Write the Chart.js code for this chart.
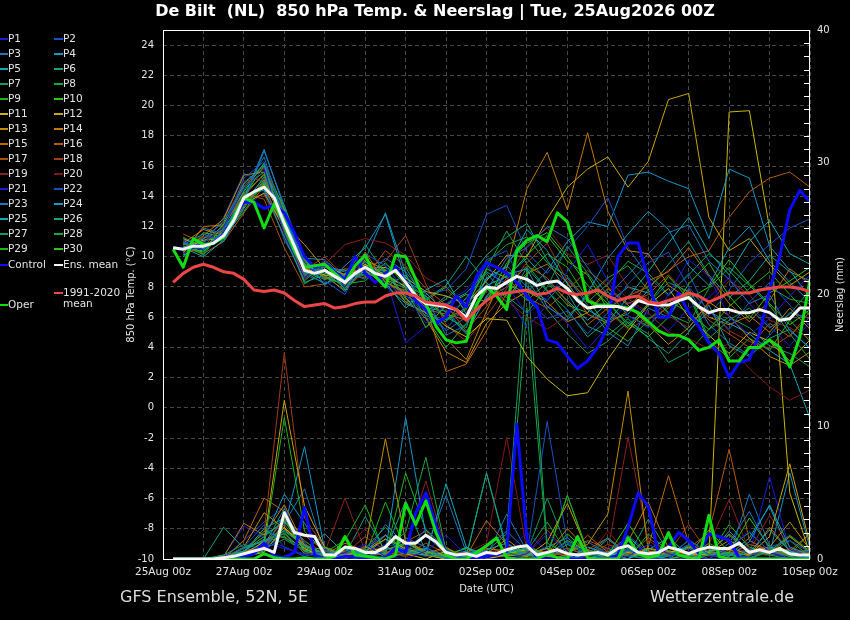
<!DOCTYPE html>
<html>
<head>
<meta charset="utf-8">
<title>De Bilt 850 hPa Temp. &amp; Neerslag</title>
<script src="https://cdn.jsdelivr.net/npm/chart.js@4.4.1/dist/chart.umd.min.js"></script>
<style>
  html, body { margin: 0; padding: 0; background: #000; }
  canvas { display: block; }
</style>
</head>
<body>
<canvas id="ensChart" width="850" height="620"></canvas>
<script>
// GFS ensemble plume, De Bilt: 850 hPa temperature (left axis) and 6h precipitation (right axis)

// Time steps (hours after 25Aug 00z)
const mainStartHour = 6, mainStepHours = 6;      // oper, control, ens. mean, climate
const memberStartHour = 12, memberStepHours = 12; // P1..P30

const xTickLabels = ['25Aug 00z', '27Aug 00z', '29Aug 00z', '31Aug 00z', '02Sep 00z',
    '04Sep 00z', '06Sep 00z', '08Sep 00z', '10Sep 00z'];
const tempTicks = [-10, -8, -6, -4, -2, 0, 2, 4, 6, 8, 10, 12, 14, 16, 18, 20, 22, 24];
const rainTicks = [0, 10, 20, 30, 40];

// Highlighted runs, 850 hPa temperature (°C)
const operTemp = [10.5, 9.3, 11.2, 10.8, 10.9, 11.3, 12.6, 13.9, 13.6, 11.9, 13.5, 12.2, 10.4, 9.3, 9.4, 9.5,
    8.9, 8.3, 9.4, 10.1, 8.7, 8.0, 10.1, 10.0, 8.5, 6.9, 5.4, 4.5, 4.3, 4.4,
    6.8, 8.0, 7.4, 6.5, 10.4, 11.1, 11.4, 11.0, 12.9, 12.3, 10.0, 7.1, 6.8, 6.8, 6.7, 6.6, 6.3,
    5.7, 5.1, 4.8, 4.8, 4.5, 3.8, 4.0, 4.5, 3.1, 3.1, 4.0, 4.0, 4.5, 4.0, 2.7, 4.7, 8.5];
const controlTemp = [10.6, 10.5, 10.7, 10.8, 10.9, 11.5, 12.6, 13.6, 13.6, 13.2, 13.4, 12.9, 11.6, 10.0, 9.3, 9.5,
    9.0, 8.5, 10.0, 8.9, 8.3, 8.9, 9.3, 8.3, 7.1, 6.5, 5.6, 6.0, 7.4, 6.7,
    8.7, 9.6, 9.3, 8.9, 8.3, 7.4, 6.7, 4.5, 4.3, 3.4, 2.6, 3.1, 4.0, 5.4, 10.0, 10.9, 10.9,
    8.5, 6.0, 6.0, 7.6, 6.3, 5.4, 4.3, 3.6, 2.0, 3.0, 3.2, 4.9, 7.8, 10.0, 13.1, 14.4, 13.6];
const ensMeanTemp = [10.6, 10.5, 10.7, 10.7, 10.9, 11.4, 12.4, 13.9, 14.3, 14.6, 13.9, 12.2, 10.7, 9.1, 8.9, 9.1,
    8.7, 8.3, 8.9, 9.3, 8.9, 8.7, 9.1, 8.3, 7.4, 6.9, 6.8, 6.7, 6.5, 6.0,
    7.4, 8.0, 7.9, 8.3, 8.7, 8.5, 8.1, 8.3, 8.4, 7.9, 7.1, 6.6, 6.7, 6.7, 6.7, 6.5, 7.1,
    6.9, 6.8, 6.8, 7.1, 7.3, 6.7, 6.3, 6.5, 6.5, 6.3, 6.3, 6.5, 6.3, 5.8, 5.9, 6.6, 6.6];
const climateTemp = [8.3, 8.9, 9.3, 9.5, 9.3, 9.0, 8.9, 8.5, 7.8, 7.7, 7.8, 7.6, 7.1, 6.7, 6.8, 6.9,
    6.6, 6.7, 6.9, 7.0, 7.0, 7.4, 7.6, 7.6, 7.4, 7.0, 6.9, 6.8, 6.5, 5.8,
    6.5, 7.1, 7.5, 7.6, 7.7, 7.8, 7.5, 7.6, 7.9, 7.6, 7.5, 7.6, 7.8, 7.4, 7.1, 7.3, 7.4,
    7.0, 6.9, 7.1, 7.3, 7.6, 7.4, 7.0, 7.3, 7.6, 7.6, 7.6, 7.8, 7.9, 8.0, 8.0, 7.9, 7.7];

// Highlighted runs, precipitation per 6h (mm)
const operRain = [0, 0, 0, 0, 0, 0, 0, 0, 0, 0.4, 0.1, 0, 0, 0.1, 0, 0,
    0.2, 1.7, 0.3, 0.2, 0.1, 0, 0.3, 4.2, 2.6, 4.4, 2.0, 0.3, 0, 0,
    0.5, 1.0, 1.6, 0.1, 0, 0, 0, 0.4, 0.1, 0, 1.7, 0.1, 0, 0, 0, 1.6, 0.4,
    0.1, 0.3, 2.0, 0.3, 0.1, 0, 3.3, 0.2, 0, 0, 0, 0, 0, 0, 0, 0, 0];
const controlRain = [0, 0, 0, 0, 0, 0, 0.1, 0.2, 0.4, 1.2, 0.2, 0.1, 0.5, 3.9, 0.3, 0,
    0, 0.2, 0.2, 0, 0.1, 0.1, 0.8, 0.5, 3.5, 5.0, 2.5, 0.4, 0.1, 0,
    0.1, 0.2, 0.3, 0.6, 10.2, 1.5, 0, 0, 0, 0, 0, 0, 0, 0, 0.3, 2.4, 5.0,
    4.0, 0.4, 0.9, 2.0, 1.4, 0.4, 1.9, 1.7, 1.4, 0.1, 0, 0, 0, 0, 0, 0, 0];
const ensMeanRain = [0, 0, 0, 0, 0, 0.1, 0.2, 0.4, 0.6, 0.8, 0.5, 3.5, 2.0, 1.8, 1.7, 0.3,
    0.3, 0.9, 0.8, 0.5, 0.5, 0.9, 1.7, 1.2, 1.2, 1.8, 1.3, 0.5, 0.3, 0.4,
    0.2, 0.5, 0.4, 0.7, 0.9, 1.0, 0.3, 0.5, 0.7, 0.4, 0.3, 0.4, 0.5, 0.3, 0.8, 1.0, 0.5,
    0.4, 0.5, 0.9, 0.7, 0.4, 0.7, 0.9, 0.8, 0.8, 1.2, 0.5, 0.7, 0.5, 0.8, 0.4, 0.3, 0.3];

// Perturbed members, 850 hPa temperature (°C), 12-hourly
const p01Temp = [10.2, 10.9, 12.0, 14.5, 15.8, 11.5, 8.6, 9.8, 8.0, 9.9, 8.2, 7.5, 5.6, 6.9, 7.8, 9.4, 8.1, 6.2, 7.3, 9.0, 10.8, 8.4, 6.1, 5.3, 7.5, 9.8, 8.7, 6.0, 4.8, 5.9, 7.4, 8.8];
const p02Temp = [11.0, 10.4, 11.8, 15.2, 16.3, 12.8, 9.6, 8.4, 7.5, 10.2, 9.4, 7.7, 6.0, 5.2, 6.8, 9.8, 10.4, 7.2, 5.9, 6.4, 4.9, 6.3, 8.2, 9.6, 10.3, 8.0, 6.4, 5.2, 7.0, 8.3, 6.8, 5.4];
const p03Temp = [10.8, 11.5, 11.0, 13.6, 17.0, 13.4, 8.8, 9.3, 9.0, 8.5, 9.9, 9.0, 7.3, 4.8, 5.5, 7.8, 9.9, 10.6, 12.0, 11.2, 9.3, 7.4, 8.8, 10.2, 11.6, 12.1, 9.7, 8.5, 6.9, 7.5, 5.1, 4.0];
const p04Temp = [10.0, 11.2, 12.3, 14.8, 16.1, 12.0, 9.9, 8.1, 9.4, 10.6, 12.8, 8.4, 7.6, 6.3, 4.9, 7.4, 8.8, 9.2, 6.7, 5.8, 7.6, 9.9, 11.5, 13.0, 11.8, 9.4, 8.1, 10.6, 12.0, 9.7, 8.3, 7.0];
const p05Temp = [10.6, 10.0, 11.1, 13.2, 15.0, 12.5, 9.4, 8.9, 8.7, 9.0, 8.3, 6.6, 7.8, 8.5, 6.2, 8.6, 9.3, 11.8, 10.4, 8.2, 6.5, 5.7, 7.3, 9.0, 10.9, 12.6, 10.3, 8.8, 11.0, 12.4, 10.2, 9.5];
const p06Temp = [11.3, 10.5, 11.6, 14.1, 14.4, 11.3, 8.4, 9.6, 7.8, 9.4, 8.0, 8.8, 6.4, 7.2, 8.4, 10.1, 11.3, 12.2, 9.8, 7.6, 5.4, 4.8, 5.9, 4.6, 3.6, 5.0, 6.8, 4.1, 3.4, 4.6, 5.2, 3.9];
const p07Temp = [10.4, 11.0, 11.5, 13.4, 15.3, 12.9, 9.0, 8.2, 8.9, 8.8, 9.2, 7.2, 6.1, 5.7, 7.3, 8.9, 7.4, 6.3, 8.0, 10.7, 8.9, 7.1, 5.4, 6.9, 8.3, 7.7, 4.6, 5.8, 6.6, 5.3, 6.2, 7.8];
const p08Temp = [10.9, 10.1, 11.9, 14.6, 15.6, 11.8, 8.2, 9.1, 8.6, 10.8, 8.9, 9.3, 7.0, 6.0, 5.3, 9.2, 11.7, 9.5, 7.8, 6.0, 7.4, 8.6, 9.4, 7.8, 6.2, 5.6, 7.9, 9.3, 8.1, 6.8, 4.9, 3.2];
const p09Temp = [10.1, 11.6, 11.3, 13.0, 14.9, 12.6, 9.7, 8.6, 8.2, 8.4, 9.6, 8.1, 7.4, 5.9, 6.6, 8.1, 7.3, 8.8, 10.2, 9.3, 7.2, 5.3, 4.4, 5.8, 7.1, 6.3, 5.2, 6.7, 7.9, 9.0, 7.5, 6.1];
const p10Temp = [10.7, 10.3, 12.2, 14.3, 16.2, 13.1, 8.9, 9.0, 7.9, 9.7, 8.5, 7.9, 5.3, 6.8, 7.5, 7.0, 9.6, 10.9, 11.6, 10.0, 8.1, 6.9, 5.6, 4.7, 6.0, 8.2, 9.6, 7.4, 5.9, 7.6, 8.4, 9.3];
const p11Temp = [10.5, 11.1, 11.2, 13.7, 14.8, 12.4, 9.2, 8.8, 8.5, 9.5, 8.8, 8.0, 6.6, 5.4, 4.7, 5.9, 5.8, 3.4, 1.9, 0.8, 1.0, 3.2, 5.1, 6.8, 7.9, 6.0, 4.8, 3.6, 5.0, 4.4, 3.1, 4.5];
const p12Temp = [11.2, 10.6, 11.7, 13.5, 14.2, 11.9, 9.5, 9.4, 8.8, 9.2, 9.3, 8.6, 7.7, 7.4, 6.9, 8.4, 10.1, 10.0, 12.5, 14.6, 15.8, 16.6, 14.6, 16.3, 20.4, 20.8, 12.6, 10.4, 11.2, 9.5, 8.1, 9.0];
const p13Temp = [10.3, 11.4, 12.5, 15.4, 15.6, 12.2, 10.8, 9.2, 8.1, 9.8, 9.1, 7.3, 5.9, 3.7, 3.0, 5.6, 6.9, 7.7, 7.0, 5.7, 6.3, 7.9, 6.8, 5.5, 4.2, 5.3, 7.0, 6.1, 4.6, 3.4, 2.8, 3.7];
const p14Temp = [10.9, 11.8, 11.4, 13.3, 15.1, 12.7, 9.8, 8.5, 9.2, 9.0, 8.6, 7.0, 6.3, 4.6, 3.2, 6.4, 9.2, 14.5, 16.9, 13.1, 18.2, 13.0, 10.4, 10.2, 8.1, 7.2, 6.0, 5.5, 6.1, 5.0, 6.6, 5.2];
const p15Temp = [10.2, 12.0, 12.1, 14.0, 15.5, 11.6, 8.7, 9.7, 8.4, 10.3, 8.3, 7.6, 6.8, 2.4, 2.9, 5.1, 7.6, 8.9, 9.5, 8.3, 6.2, 5.6, 6.4, 8.4, 9.0, 10.6, 8.7, 6.9, 5.7, 7.1, 9.2, 8.2];
const p16Temp = [10.6, 10.2, 11.0, 12.9, 14.7, 11.7, 9.3, 8.7, 7.8, 9.1, 8.1, 7.8, 6.5, 6.2, 5.8, 7.2, 8.0, 9.4, 8.6, 7.0, 5.5, 6.6, 7.4, 8.0, 9.1, 10.0, 10.4, 12.6, 14.3, 15.2, 15.6, 14.6];
const p17Temp = [11.5, 10.9, 12.0, 14.2, 13.8, 10.6, 8.0, 8.2, 8.9, 8.6, 10.4, 9.4, 7.9, 6.8, 5.1, 6.7, 8.6, 7.3, 6.6, 7.8, 9.1, 8.0, 6.9, 7.5, 8.8, 7.4, 5.8, 4.9, 4.0, 5.6, 4.7, 6.4];
const p18Temp = [10.8, 10.7, 11.9, 14.7, 15.9, 13.0, 9.1, 10.0, 8.7, 9.4, 9.7, 11.4, 8.2, 5.5, 4.4, 6.1, 7.9, 9.6, 10.9, 8.4, 7.3, 6.4, 5.2, 5.9, 6.6, 7.8, 6.5, 5.1, 4.4, 3.9, 4.8, 6.0];
const p19Temp = [10.4, 11.3, 11.3, 13.8, 14.1, 11.4, 8.5, 9.5, 10.8, 11.2, 10.9, 10.1, 8.6, 7.9, 6.4, 7.0, 8.4, 10.7, 11.9, 10.2, 9.5, 10.1, 8.0, 7.2, 6.1, 5.3, 6.9, 8.4, 7.5, 5.8, 5.3, 4.6];
const p20Temp = [10.0, 11.0, 12.4, 15.0, 15.2, 12.1, 9.6, 8.9, 8.3, 10.0, 8.4, 8.2, 7.1, 6.5, 5.9, 7.7, 7.1, 6.0, 5.2, 6.1, 7.3, 8.5, 7.2, 6.3, 5.0, 4.6, 3.9, 4.2, 2.6, 1.4, 0.5, 1.2];
const p21Temp = [10.7, 10.5, 11.6, 13.1, 14.3, 12.3, 9.4, 9.0, 8.0, 9.6, 8.7, 4.3, 5.4, 6.1, 7.2, 9.6, 7.5, 5.3, 6.8, 5.6, 3.9, 5.4, 7.0, 6.2, 5.1, 6.6, 7.3, 8.6, 6.9, 5.4, 4.1, 5.7];
const p22Temp = [11.1, 10.8, 12.6, 15.5, 14.9, 11.1, 8.8, 8.3, 8.4, 9.0, 9.5, 8.7, 7.5, 7.8, 9.2, 12.8, 13.4, 10.3, 8.9, 10.5, 12.0, 13.9, 10.6, 8.7, 7.4, 8.9, 6.1, 7.8, 9.6, 10.8, 11.9, 12.5];
const p23Temp = [10.4, 11.9, 11.5, 14.4, 16.6, 12.4, 9.5, 8.6, 8.7, 9.3, 9.0, 7.4, 6.7, 5.1, 6.0, 8.5, 9.4, 8.0, 7.1, 8.6, 6.8, 5.0, 4.1, 6.6, 6.0, 7.9, 5.5, 4.3, 3.5, 4.8, 6.3, 5.9];
const p24Temp = [10.9, 10.6, 11.4, 13.9, 17.1, 13.2, 9.9, 9.8, 8.6, 9.8, 12.9, 8.9, 6.2, 6.9, 7.6, 9.0, 8.2, 7.6, 9.1, 11.0, 12.3, 12.0, 15.4, 15.6, 15.0, 14.5, 11.2, 15.8, 15.2, 10.7, 9.1, 7.3];
const p25Temp = [10.6, 11.2, 11.8, 14.0, 14.5, 11.8, 8.3, 8.8, 7.7, 9.5, 8.1, 6.9, 6.3, 7.4, 6.9, 8.1, 8.7, 9.9, 8.4, 7.1, 5.8, 6.9, 8.0, 7.6, 6.3, 5.1, 6.4, 5.6, 4.9, 3.8, 2.9, -0.7];
const p26Temp = [10.1, 10.8, 11.2, 13.6, 15.2, 12.9, 9.2, 9.3, 9.1, 8.7, 9.3, 8.5, 7.2, 8.1, 10.0, 8.3, 7.0, 9.3, 7.7, 6.5, 4.7, 5.8, 6.2, 7.8, 9.5, 11.0, 8.8, 7.3, 8.4, 10.1, 9.0, 8.4];
const p27Temp = [11.0, 10.2, 11.9, 14.9, 16.0, 12.0, 8.6, 9.2, 8.0, 9.1, 8.9, 8.0, 6.6, 6.4, 5.0, 7.3, 9.0, 8.5, 6.5, 4.9, 3.6, 4.4, 5.7, 4.9, 3.0, 3.7, 5.2, 6.0, 5.3, 4.1, 3.6, 2.7];
const p28Temp = [10.3, 11.3, 11.0, 13.5, 14.7, 12.6, 9.0, 8.5, 8.8, 9.9, 8.3, 7.7, 7.4, 5.8, 6.5, 9.6, 10.8, 11.3, 9.6, 8.7, 7.0, 8.2, 9.7, 8.9, 7.5, 8.8, 10.2, 9.1, 7.6, 8.0, 7.2, 6.9];
const p29Temp = [10.8, 10.9, 12.1, 14.2, 15.4, 13.4, 9.7, 8.7, 8.1, 9.4, 8.6, 8.1, 6.0, 4.0, 5.6, 7.2, 8.4, 7.1, 8.3, 6.8, 6.3, 7.7, 6.1, 5.4, 6.8, 7.5, 4.4, 3.3, 4.6, 3.8, 5.8, 4.4];
const p30Temp = [10.5, 10.4, 11.5, 14.0, 16.0, 12.7, 9.3, 9.1, 8.3, 9.2, 9.1, 7.0, 7.1, 8.0, 6.7, 9.2, 8.6, 10.1, 11.4, 9.7, 8.8, 6.5, 5.3, 6.9, 8.7, 7.2, 8.0, 9.8, 8.2, 6.9, 5.5, 6.5];

// Perturbed members, precipitation per 6h (mm), 12-hourly
const p01Rain = [0, 0, 0, 0.3, 1.2, 0.8, 0.4, 0, 0.5, 1.1, 0.2, 0, 0.6, 1.8, 0.3, 0, 0, 0.4, 1.9, 0.6, 0, 0, 0.2, 1.1, 0.4, 0, 0, 0.8, 2.1, 0.5, 0, 0.3];
const p02Rain = [0, 0, 0.1, 0.9, 2.6, 0.9, 0.2, 0.6, 0.1, 0, 0.8, 0.4, 2.3, 0.7, 0, 0.2, 0.5, 0, 0.3, 1.3, 0.4, 0, 0.7, 0, 0, 1.5, 0.3, 0, 0.2, 0.9, 1.4, 0.5];
const p03Rain = [0, 0, 0, 0.4, 0.8, 3.4, 1.2, 0, 0.3, 0, 0.2, 1.6, 0.9, 0, 0.4, 0.9, 2.1, 0.6, 0, 0, 0.4, 1.6, 0.2, 0, 0.3, 0.8, 0, 1.2, 3.6, 0.7, 0, 0.2];
const p04Rain = [0, 0, 0, 0.6, 1.5, 4.9, 2.7, 0.3, 0.8, 0.2, 0.5, 10.7, 1.8, 0.4, 0, 0.7, 1.2, 0.3, 0, 0.2, 0, 0.5, 1.0, 0.2, 0, 0, 0.6, 0.2, 1.3, 4.1, 0.9, 0.3];
const p05Rain = [0, 0, 0, 0.2, 0.6, 2.2, 1.0, 0.4, 0.1, 0.6, 1.8, 0.5, 0.3, 5.7, 0.9, 0.2, 0.6, 0.8, 0.3, 0, 0.9, 0.4, 0, 0.7, 1.6, 0.3, 0, 0, 0.5, 2.2, 0.6, 0];
const p06Rain = [0, 0, 2.4, 0.8, 1.4, 1.9, 0.6, 0.2, 0.9, 0.3, 0, 0.5, 0.7, 0, 0.2, 6.5, 0.8, 0.4, 0.2, 1.1, 0.3, 0, 0.6, 0.2, 0, 0.4, 0.9, 0.3, 0.1, 0.6, 0.2, 0];
const p07Rain = [0, 0, 0.3, 1.1, 0.7, 2.8, 1.4, 0.2, 0, 0.8, 2.4, 0.7, 0.3, 0.1, 0, 0.6, 1.9, 22.0, 1.2, 0.4, 0, 0.3, 0.8, 0, 0.2, 1.0, 0.4, 0, 0.7, 0.3, 0, 0.5];
const p08Rain = [0, 0, 0, 0.5, 2.1, 1.6, 0.9, 0.3, 0.7, 0.1, 0.9, 2.0, 7.7, 0.6, 0.2, 0.5, 0.3, 0.6, 2.8, 0.4, 0.2, 1.5, 0.3, 0, 0.4, 0.2, 1.2, 0.4, 0, 0.6, 1.8, 0.6];
const p09Rain = [0, 0, 0, 0.3, 1.0, 10.7, 2.1, 0.5, 1.4, 4.1, 0.3, 6.5, 2.2, 0.8, 0, 0.4, 0.6, 1.1, 0.2, 4.8, 0.5, 0.2, 0, 1.9, 0.6, 0, 0.3, 2.6, 0.9, 0.4, 1.4, 0.2];
const p10Rain = [0, 0, 0.1, 0.6, 1.7, 2.9, 0.6, 0.9, 0.2, 0.4, 0.7, 1.2, 0.5, 0.3, 0.8, 0.2, 0.4, 0.8, 0.3, 1.4, 0.6, 0.3, 2.7, 0.4, 0, 1.0, 0.3, 0.5, 3.1, 0.9, 0.3, 0.1];
const p11Rain = [0, 0, 0, 0.2, 0.5, 2.4, 0.8, 0, 0.3, 0.5, 0.9, 0.4, 0, 0.6, 0.2, 0, 0.4, 0.7, 0.2, 0, 0.3, 0.5, 0, 0.8, 0.6, 0.4, 0.3, 33.8, 33.9, 25.0, 5.0, 0.4];
const p12Rain = [0, 0, 0, 0.4, 1.3, 12.0, 4.0, 0.9, 0.2, 0.6, 1.5, 0.8, 0.3, 0, 0.4, 0, 0.3, 0.2, 1.3, 4.2, 0.6, 0, 0.5, 0.2, 0, 0.3, 0.6, 0.9, 0.3, 1.7, 7.2, 1.1];
const p13Rain = [0, 0, 0, 0.9, 3.5, 2.3, 1.1, 0.4, 0.2, 0.8, 9.1, 1.3, 0.6, 0.2, 0, 0.4, 1.5, 0.3, 0.8, 0.5, 1.1, 3.4, 12.7, 0.6, 0.3, 0.9, 0.5, 1.4, 0.6, 0.9, 2.8, 0.7];
const p14Rain = [0, 0, 0.2, 2.7, 1.8, 4.1, 1.0, 0.3, 1.2, 0.6, 0.3, 1.6, 0.4, 0.9, 0, 0.8, 0.6, 0.2, 0.4, 2.3, 0.7, 0.2, 1.3, 4.3, 0.8, 0.3, 0.5, 1.9, 0.6, 0.4, 1.7, 0.5];
const p15Rain = [0, 0, 0, 1.4, 4.6, 3.6, 0.8, 0.2, 0.6, 0.3, 1.8, 0.7, 0.3, 0, 0.2, 2.9, 1.1, 0.4, 0, 0.3, 1.8, 0.5, 0, 0.9, 6.3, 1.2, 0.3, 0.7, 0.2, 2.4, 0.6, 1.9];
const p16Rain = [0, 0, 0, 0.5, 1.1, 3.0, 1.8, 0.6, 0.3, 0.2, 0.4, 1.3, 2.1, 0.5, 0.2, 0.6, 0.2, 0.8, 0.5, 0.2, 0.7, 1.6, 0.4, 0.2, 0.5, 0.8, 2.0, 8.3, 1.4, 0.6, 0.3, 0.2];
const p17Rain = [0, 0, 0, 0.3, 0.9, 2.6, 0.7, 0.4, 0.2, 1.0, 0.5, 0.3, 1.2, 0.4, 0, 0.3, 0.9, 0.5, 0.2, 0.6, 1.4, 0.8, 0.2, 1.6, 0.5, 0.2, 0.4, 0.3, 1.1, 0.7, 0.2, 0.5];
const p18Rain = [0, 0, 0, 0.6, 2.0, 15.6, 3.1, 0.9, 0.4, 1.7, 0.6, 0.4, 0.3, 0.8, 0.2, 0.5, 0.3, 0.6, 0.4, 0.8, 0.3, 1.1, 0.6, 0.2, 0.5, 2.6, 0.4, 0.7, 0.5, 0.3, 0.8, 0.2];
const p19Rain = [0, 0, 0, 0.2, 0.7, 3.2, 1.3, 0.5, 4.6, 0.6, 0.3, 1.0, 5.9, 0.7, 0.3, 0.5, 0.8, 0.4, 2.2, 0.5, 0.3, 0.6, 9.2, 1.4, 0.4, 0.8, 1.1, 4.5, 0.6, 3.3, 0.9, 0.4];
const p20Rain = [0, 0, 0, 0.4, 0.9, 1.8, 0.5, 0.2, 0.8, 2.3, 0.4, 0.2, 0.6, 0.3, 0.5, 1.2, 9.2, 0.6, 0.3, 0.4, 0.2, 2.1, 0.4, 0.7, 0.3, 0.5, 0.2, 0.6, 0.4, 0.3, 0.2, 0.1];
const p21Rain = [0, 0, 0.2, 2.5, 1.6, 0.9, 0.3, 0.7, 0.2, 0.5, 1.1, 0.8, 0.4, 0, 0.2, 0.3, 0.5, 2.0, 0.6, 0.2, 0.4, 0.8, 1.3, 0.4, 0.2, 0.6, 0.3, 0.9, 0.4, 6.2, 0.7, 0.3];
const p22Rain = [0, 0, 0.1, 1.4, 2.8, 3.9, 0.6, 0.3, 0.4, 0.9, 1.8, 0.6, 0.2, 0.4, 0.3, 0.2, 0.7, 0.4, 10.4, 1.2, 0.4, 0.3, 1.8, 0.5, 0.2, 0.4, 0.6, 0.3, 0.8, 0.5, 0.4, 0.2];
const p23Rain = [0, 0, 0, 0.8, 1.9, 2.7, 5.3, 0.4, 0.6, 0.3, 2.6, 1.1, 0.7, 4.8, 0.5, 0.2, 3.4, 0.6, 0.2, 0.5, 1.3, 0.4, 0.2, 0.6, 0.3, 1.1, 0.5, 0.2, 4.9, 1.0, 0.4, 0.6];
const p24Rain = [0, 0, 0, 0.3, 1.2, 2.4, 8.5, 0.7, 0.3, 0.4, 1.5, 0.5, 0.8, 0.3, 0.6, 0.2, 0.5, 0.3, 0.9, 1.6, 0.4, 0.2, 0.7, 0.3, 0.5, 0.9, 0.3, 2.1, 0.6, 0.4, 6.5, 0.8];
const p25Rain = [0, 0, 0, 0.5, 2.3, 3.1, 0.6, 1.9, 0.4, 0.7, 0.2, 1.2, 0.4, 0.2, 0.9, 0.3, 0.6, 0.4, 0.2, 0.8, 0.3, 0.5, 1.7, 0.3, 0.2, 1.4, 0.5, 0.3, 1.6, 4.0, 0.4, 0.2];
const p26Rain = [0, 0, 0.3, 0.6, 1.0, 3.8, 0.4, 0.8, 0.3, 3.2, 0.6, 4.4, 0.5, 0.3, 0.2, 6.5, 0.6, 0.4, 0.8, 0.2, 0.5, 0.3, 0.6, 0.2, 0.5, 0.3, 0.8, 0.4, 0.3, 0.9, 0.6, 0.4];
const p27Rain = [0, 0, 0, 0.4, 0.8, 1.5, 0.6, 0.2, 0.5, 0.3, 0.9, 0.4, 0.6, 0.2, 0.4, 0.3, 0.2, 0.5, 4.6, 0.8, 0.3, 0.6, 0.2, 3.0, 0.5, 0.3, 0.6, 1.8, 0.4, 0.3, 0.5, 0.2];
const p28Rain = [0, 0, 0, 0.2, 1.4, 2.1, 1.0, 0.3, 0.2, 0.6, 0.4, 0.9, 0.5, 0.3, 0.2, 0.4, 0.6, 19.0, 0.7, 0.3, 0.5, 0.8, 0.3, 0.2, 0.6, 0.4, 0.5, 0.9, 2.0, 0.6, 1.7, 0.5];
const p29Rain = [0, 0, 0.1, 0.9, 1.3, 1.7, 0.5, 0.4, 0.8, 0.2, 4.3, 0.7, 0.3, 0.2, 0.6, 0.2, 0.3, 0.9, 0.4, 4.8, 0.6, 0.3, 0.4, 0.8, 0.3, 0.2, 0.5, 0.4, 0.6, 0.8, 0.3, 2.0];
const p30Rain = [0, 0, 0, 0.3, 0.7, 2.0, 0.4, 0.6, 0.3, 0.9, 0.5, 0.2, 0.6, 0.3, 0.2, 0.5, 0.4, 0.7, 0.3, 1.9, 0.5, 0.3, 0.6, 0.2, 0.4, 0.3, 2.2, 0.5, 0.3, 0.6, 0.4, 0.7];

const memberTemps = [p01Temp, p02Temp, p03Temp, p04Temp, p05Temp, p06Temp, p07Temp, p08Temp, p09Temp, p10Temp,
    p11Temp, p12Temp, p13Temp, p14Temp, p15Temp, p16Temp, p17Temp, p18Temp, p19Temp, p20Temp,
    p21Temp, p22Temp, p23Temp, p24Temp, p25Temp, p26Temp, p27Temp, p28Temp, p29Temp, p30Temp];
const memberRains = [p01Rain, p02Rain, p03Rain, p04Rain, p05Rain, p06Rain, p07Rain, p08Rain, p09Rain, p10Rain,
    p11Rain, p12Rain, p13Rain, p14Rain, p15Rain, p16Rain, p17Rain, p18Rain, p19Rain, p20Rain,
    p21Rain, p22Rain, p23Rain, p24Rain, p25Rain, p26Rain, p27Rain, p28Rain, p29Rain, p30Rain];

// Member colours: blue -> green -> yellow -> orange -> dark red, then repeat
const memberColors = ['#1a1ad8', '#1650c4', '#1a76c2', '#1496c6', '#10aab2', '#12a084', '#129c62', '#14a83e', '#1cb41e', '#2ac812',
    '#c8b800', '#c8a400', '#c08e00', '#c07a00', '#be6800', '#b45a08', '#aa4e0c', '#a03c16', '#8c2020', '#801616',
    '#1a1ad8', '#1650c4', '#1a76c2', '#1496c6', '#10aab2', '#12a084', '#129c62', '#14a83e', '#1cb41e', '#2ac812'];

const FONT = "'DejaVu Sans', 'Liberation Sans', sans-serif";
const TEXT = '#e4e4e4';
const GRID = '#474747';
const OPER = '#12dc12', CONTROL = '#0a0aff', MEAN = '#f4f4f4', CLIMATE = '#ec4646';

const toPoints = (values, start, step) => values.map((v, i) => ({ x: start + step * i, y: v }));

const datasets = [];
// thick lines (lower order = drawn on top)
datasets.push({ label: '1991-2020 mean', data: toPoints(climateTemp, mainStartHour, mainStepHours), yAxisID: 'yTemp', borderColor: CLIMATE, borderWidth: 3, order: 1 });
datasets.push({ label: 'Ens. mean', data: toPoints(ensMeanTemp, mainStartHour, mainStepHours), yAxisID: 'yTemp', borderColor: MEAN, borderWidth: 3, order: 2 });
datasets.push({ label: 'Ens. mean rain', data: toPoints(ensMeanRain, mainStartHour, mainStepHours), yAxisID: 'yRain', borderColor: MEAN, borderWidth: 3, order: 2 });
datasets.push({ label: 'Oper', data: toPoints(operTemp, mainStartHour, mainStepHours), yAxisID: 'yTemp', borderColor: OPER, borderWidth: 3, order: 3 });
datasets.push({ label: 'Oper rain', data: toPoints(operRain, mainStartHour, mainStepHours), yAxisID: 'yRain', borderColor: OPER, borderWidth: 3, order: 3 });
datasets.push({ label: 'Control', data: toPoints(controlTemp, mainStartHour, mainStepHours), yAxisID: 'yTemp', borderColor: CONTROL, borderWidth: 3, order: 4 });
datasets.push({ label: 'Control rain', data: toPoints(controlRain, mainStartHour, mainStepHours), yAxisID: 'yRain', borderColor: CONTROL, borderWidth: 3, order: 4 });
// thin member lines
memberTemps.forEach((vals, k) => {
    datasets.push({ label: 'P' + (k + 1), data: toPoints(vals, memberStartHour, memberStepHours), yAxisID: 'yTemp', borderColor: memberColors[k], borderWidth: 1, order: 10 });
});
memberRains.forEach((vals, k) => {
    datasets.push({ label: 'P' + (k + 1) + ' rain', data: toPoints(vals, memberStartHour, memberStepHours), yAxisID: 'yRain', borderColor: memberColors[k], borderWidth: 1, order: 11 });
});

// Frame, right-axis minor ticks, legend, titles
const decor = {
    id: 'decor',
    beforeDraw(chart) {
        const c = chart.ctx;
        c.save();
        c.fillStyle = '#000';
        c.fillRect(0, 0, chart.width, chart.height);
        c.restore();
    },
    afterDraw(chart) {
        const { ctx, chartArea: a, scales } = chart;
        ctx.save();

        // white frame round the plot
        ctx.strokeStyle = '#fff';
        ctx.lineWidth = 1;
        ctx.strokeRect(Math.round(a.left) + 0.5, Math.round(a.top) + 0.5,
            Math.round(a.right - a.left) - 1, Math.round(a.bottom - a.top));

        // 1 mm tick marks inside the right axis
        ctx.beginPath();
        for (let mm = 1; mm < 40; mm++) {
            const y = Math.round(scales.yRain.getPixelForValue(mm)) + 0.5;
            ctx.moveTo(a.right - 6, y);
            ctx.lineTo(a.right, y);
        }
        ctx.stroke();

        // right axis title (reads upwards)
        ctx.fillStyle = TEXT;
        ctx.font = `10px ${FONT}`;
        ctx.textAlign = 'center';
        ctx.textBaseline = 'middle';
        ctx.save();
        ctx.translate(840, (a.top + a.bottom) / 2);
        ctx.rotate(-Math.PI / 2);
        ctx.fillText('Neerslag (mm)', 0, 0);
        ctx.restore();

        // legend on the left
        ctx.font = `10.5px ${FONT}`;
        ctx.textAlign = 'left';
        const legendItem = (x, y, color, text) => {
            ctx.strokeStyle = color;
            ctx.lineWidth = 2;
            ctx.beginPath();
            ctx.moveTo(x, y);
            ctx.lineTo(x + 9, y);
            ctx.stroke();
            ctx.fillStyle = TEXT;
            ctx.fillText(text, x + 9, y);
        };
        memberColors.forEach((col, k) => {
            const x = k % 2 ? 54 : -1;
            const y = 39 + 15 * Math.floor(k / 2);
            legendItem(x, y, col, 'P' + (k + 1));
        });
        legendItem(-1, 265, CONTROL, 'Control');
        legendItem(54, 265, MEAN, 'Ens. mean');
        legendItem(54, 293, CLIMATE, '1991-2020');
        ctx.fillText('mean', 63, 304);
        legendItem(-1, 305, OPER, 'Oper');

        // title and footer
        ctx.fillStyle = '#fff';
        ctx.font = `bold 16px ${FONT}`;
        ctx.textAlign = 'center';
        ctx.fillText('De Bilt  (NL)  850 hPa Temp. & Neerslag | Tue, 25Aug2026 00Z', 435, 12);

        ctx.fillStyle = '#dcdcdc';
        ctx.font = `16px ${FONT}`;
        ctx.textAlign = 'left';
        ctx.fillText('GFS Ensemble, 52N, 5E', 120, 598);
        ctx.fillText('Wetterzentrale.de', 650, 598);
        ctx.restore();
    }
};

new Chart(document.getElementById('ensChart'), {
    type: 'line',
    data: { datasets },
    options: {
        responsive: false,
        animation: false,
        devicePixelRatio: 1,
        layout: { padding: { left: 120, top: 30, right: 0, bottom: 16 } },
        plugins: { legend: { display: false }, tooltip: { enabled: false } },
        elements: {
            point: { radius: 0 },
            line: { tension: 0, fill: false, borderJoinStyle: 'round' }
        },
        scales: {
            x: {
                type: 'linear', min: 0, max: 384,
                afterBuildTicks: s => { s.ticks = Array.from({ length: 17 }, (_, d) => ({ value: d * 24 })); },
                afterFit: s => { s.height = 45; },
                ticks: {
                    autoSkip: false, maxRotation: 0, padding: 7, color: TEXT,
                    font: { family: FONT, size: 10.5 },
                    callback: v => (v % 48 === 0 ? xTickLabels[v / 48] : '')
                },
                grid: { color: GRID, drawTicks: false },
                border: { display: false, dash: [4, 3] },
                title: { display: true, text: 'Date (UTC)', color: TEXT, font: { family: FONT, size: 10 }, padding: { top: 0, bottom: 9 } }
            },
            yTemp: {
                position: 'left', min: -10, max: 25,
                afterBuildTicks: s => { s.ticks = tempTicks.map(v => ({ value: v })); },
                afterFit: s => { s.width = 43; },
                ticks: { padding: 9, color: TEXT, font: { family: FONT, size: 10 } },
                grid: { color: GRID, drawTicks: false },
                border: { display: false, dash: [4, 3] },
                title: { display: true, text: '850 hPa Temp. (°C)', color: TEXT, font: { family: FONT, size: 10 }, padding: { top: 5, bottom: 0 } }
            },
            yRain: {
                position: 'right', min: 0, max: 40,
                afterBuildTicks: s => { s.ticks = rainTicks.map(v => ({ value: v })); },
                afterFit: s => { s.width = 40; },
                ticks: { padding: 7, color: TEXT, font: { family: FONT, size: 10 } },
                grid: { display: false, drawTicks: false, drawOnChartArea: false },
                border: { display: false }
            }
        }
    },
    plugins: [decor]
});
</script>
</body>
</html>
